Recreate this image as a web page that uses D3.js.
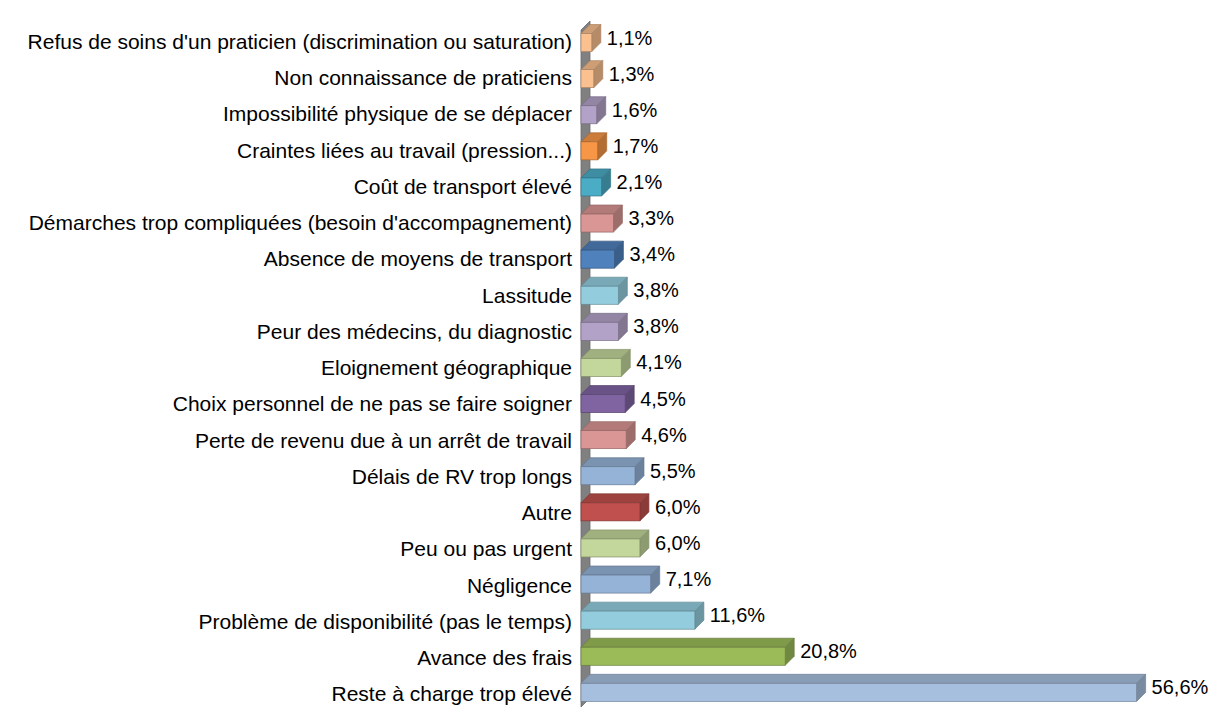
<!DOCTYPE html>
<html>
<head>
<meta charset="utf-8">
<script src="https://cdn.jsdelivr.net/npm/d3@7"></script>
<style>
  body { margin: 0; background: #fff; }
  svg { display: block; font-family: Arial, "Liberation Sans", sans-serif; }
</style>
</head>
<body>
<svg id="chart" width="1214" height="707"></svg>
<script>
const categories = [
  "Refus de soins d'un praticien (discrimination ou saturation)",
  'Non connaissance de praticiens',
  'Impossibilité physique de se déplacer',
  'Craintes liées au travail (pression...)',
  'Coût de transport élevé',
  "Démarches trop compliquées (besoin d'accompagnement)",
  'Absence de moyens de transport',
  'Lassitude',
  'Peur des médecins, du diagnostic',
  'Eloignement géographique',
  'Choix personnel de ne pas se faire soigner',
  'Perte de revenu due à un arrêt de travail',
  'Délais de RV trop longs',
  'Autre',
  'Peu ou pas urgent',
  'Négligence',
  'Problème de disponibilité (pas le temps)',
  'Avance des frais',
  'Reste à charge trop élevé'
]
const values = [1.1, 1.3, 1.6, 1.7, 2.1, 3.3, 3.4, 3.8, 3.8, 4.1, 4.5, 4.6, 5.5, 6.0, 6.0, 7.1, 11.6, 20.8, 56.6]
const colors = [
  '#FAC090', '#FAC090', '#B3A2C7', '#F79646', '#4BACC6', '#D99694', '#4F81BD',
  '#93CDDD', '#B3A2C7', '#C3D69B', '#8064A2', '#D99694', '#95B3D7', '#C0504D',
  '#C3D69B', '#95B3D7', '#93CDDD', '#9BBB59', '#A7BFDE'
]

const depth = 9
const svg = d3.select('#chart')

const x = d3.scaleLinear().domain([0, 60]).range([581, 1170])
const y = d3.scaleBand().domain(categories).range([24.5, 710.4])
  .paddingInner(0.5).paddingOuter(0.25)
// category labels sit on the 3D axis, spread a bit wider than the bars
const yLabel = d3.scalePoint().domain(categories).range([41.5, 694])

const fmt = v => d3.format('.1f')(v).replace('.', ',') + '%'

// side wall
const x0 = x(0)
svg.append('path')
  .attr('d', `M${x0},30 L${x0 + depth},21 L${x0 + depth},698 L${x0},707 Z`)
  .attr('fill', '#808080')
  .attr('stroke', '#6b6b6b')
  .attr('stroke-width', 0.8)

const bars = svg.selectAll('g.bar')
  .data(categories.map((c, i) => ({ c, v: values[i], col: colors[i] })))
  .join('g')
  .attr('class', 'bar')

bars.each(function (d) {
  const g = d3.select(this)
  const top = y(d.c)
  const h = y.bandwidth()
  const xr = x(d.v)
  const base = d3.color(d.col)
  const edge = base.darker(1.1)
  // top face
  g.append('path')
    .attr('d', `M${x0},${top} L${x0 + depth},${top - depth} L${xr + depth},${top - depth} L${xr},${top} Z`)
    .attr('fill', base.darker(0.55))
    .attr('stroke', edge).attr('stroke-width', 0.7)
  // right face
  g.append('path')
    .attr('d', `M${xr},${top} L${xr + depth},${top - depth} L${xr + depth},${top + h - depth} L${xr},${top + h} Z`)
    .attr('fill', base.darker(0.9))
    .attr('stroke', edge).attr('stroke-width', 0.7)
  // front face
  g.append('rect')
    .attr('x', x0).attr('y', top)
    .attr('width', xr - x0).attr('height', h)
    .attr('fill', base)
    .attr('stroke', edge).attr('stroke-width', 0.7)

  g.append('text')
    .attr('x', xr + depth + 6)
    .attr('y', top + h / 2 - 5)
    .attr('dy', '0.35em')
    .attr('font-size', 20)
    .attr('fill', '#000')
    .text(fmt(d.v))
})

svg.append('g').selectAll('text')
  .data(categories)
  .join('text')
  .attr('x', 572)
  .attr('y', d => yLabel(d))
  .attr('dy', '0.35em')
  .attr('text-anchor', 'end')
  .attr('font-size', 21)
  .attr('fill', '#000')
  .text(d => d)
</script>
</body>
</html>
